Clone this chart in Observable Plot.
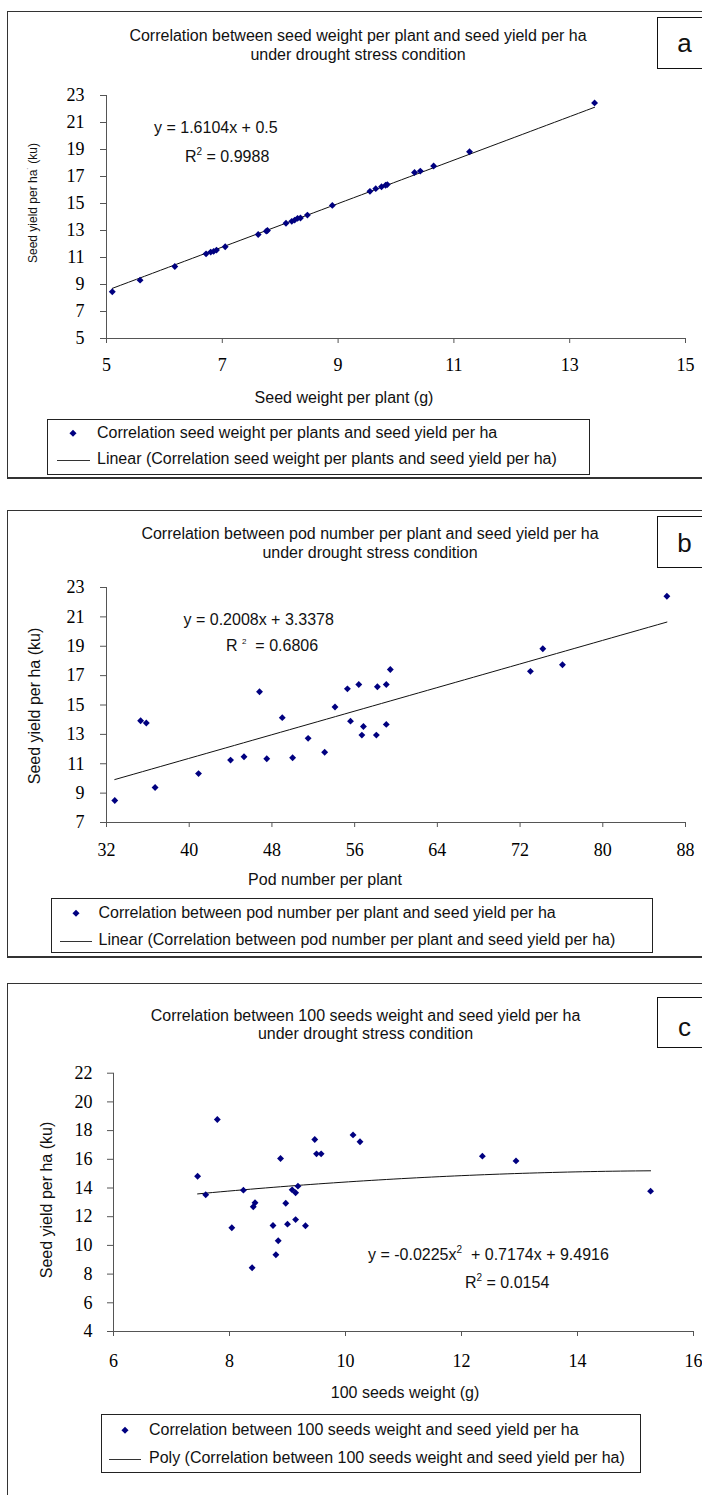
<!DOCTYPE html>
<html><head><meta charset="utf-8">
<script src="https://cdn.jsdelivr.net/npm/d3@7"></script>
<script src="https://cdn.jsdelivr.net/npm/@observablehq/plot@0.6"></script>
<style>
body{margin:0;background:#fff;}
#page{position:relative;width:702px;height:1495px;overflow:hidden;font-family:"Liberation Sans",Arial,sans-serif;color:#111;background:#fff;}
.abs{position:absolute;white-space:nowrap;line-height:1;z-index:3;}
.panel{position:absolute;border:1px solid #333;box-sizing:border-box;z-index:1;}
.lbox{position:absolute;border:1px solid #222;box-sizing:border-box;background:#fff;z-index:2;}
.plt{position:absolute;left:0;z-index:2;}
.plt g[aria-label="x-axis tick"] path,.plt g[aria-label="y-axis tick"] path{stroke:#555;}
.sup{position:relative;font-size:10px;top:-7px;}
.dm{position:absolute;width:4.6px;height:4.6px;background:#000080;transform:translate(-50%,-50%) rotate(45deg);z-index:3;}
.ln{position:absolute;height:0;border-top:1px solid #333;z-index:3;}
</style>
</head><body><div id="page"></div>
<script>
// ---------- data ----------
// Panel a: seed weight per plant (g) vs seed yield per ha (ku)
const seedWeightA = [13.43,11.27,10.65,10.42,10.32,9.85,9.82,9.75,9.65,9.55,8.9,8.47,8.35,8.3,8.25,8.2,8.1,7.78,7.76,7.62,7.05,6.9,6.85,6.8,6.72,6.18,5.58,5.1];
const yieldA      = [22.45,18.83,17.78,17.4,17.3,16.4,16.35,16.24,16.1,15.9,14.86,14.14,13.93,13.9,13.77,13.68,13.54,13.0,12.95,12.7,11.8,11.55,11.45,11.4,11.27,10.33,9.32,8.46];
const coefA = [1.6104, 0.5];
const xTicksA = [5,7,9,11,13,15];
const yTicksA = [5,7,9,11,13,15,17,19,21,23];

// Panel b: pod number per plant vs seed yield per ha (ku)
const podsB  = [86.2,74.2,76.1,73.0,59.45,56.4,59.06,55.3,58.2,46.8,54.1,49.0,35.3,35.85,55.6,56.85,59.06,56.7,58.1,51.5,53.1,44.0,45.3,47.5,50.0,40.9,36.7,32.8];
const yieldB = [22.4,18.83,17.74,17.29,17.42,16.4,16.4,16.1,16.24,15.9,14.86,14.14,13.93,13.77,13.9,13.54,13.68,12.95,12.95,12.73,11.78,11.25,11.48,11.34,11.41,10.33,9.38,8.5];
const coefB = [0.2008, 3.3378];
const xTicksB = [32,40,48,56,64,72,80,88];
const yTicksB = [7,9,11,13,15,17,19,21,23];

// Panel c: 100 seeds weight (g) vs seed yield per ha (ku)
const seeds100C = [7.45,7.59,7.79,8.04,8.24,8.41,8.44,8.75,8.80,8.84,8.88,8.97,9.0,9.08,9.14,9.14,9.18,9.31,9.47,9.5,9.58,10.13,10.25,12.36,12.94,15.26,8.39];
const yieldC    = [14.82,13.53,18.77,11.23,13.85,12.69,12.97,11.39,9.35,10.32,16.06,12.94,11.48,13.87,13.67,11.8,14.13,11.37,17.38,16.38,16.38,17.7,17.22,16.22,15.89,13.78,8.44];
const coefC = [-0.0225, 0.7174, 9.4916];
const xTicksC = [6,8,10,12,14,16];
const yTicksC = [4,6,8,10,12,14,16,18,20,22];

const titles = {
  a: ["Correlation between seed weight per plant and seed yield per ha", "under drought stress condition"],
  b: ["Correlation between pod number per plant and seed yield per ha", "under drought stress condition"],
  c: ["Correlation between 100 seeds weight and seed yield per ha", "under drought stress condition"]
};
const legends = {
  a: ["Correlation seed weight per plants and seed yield per ha", "Linear (Correlation seed weight per plants and seed yield per ha)"],
  b: ["Correlation between pod number per plant and seed yield per ha", "Linear (Correlation between pod number per plant and seed yield per ha)"],
  c: ["Correlation between 100 seeds weight and seed yield per ha", "Poly (Correlation between 100 seeds weight and seed yield per ha)"]
};
const xTitles = {a: "Seed weight per plant (g)", b: "Pod number per plant", c: "100 seeds weight (g)"};

// ---------- helpers ----------
const page = document.getElementById("page");
function el(cls, styles, html) {
  const d = document.createElement("div");
  d.className = cls;
  Object.assign(d.style, styles);
  if (html != null) d.innerHTML = html;
  page.appendChild(d);
  return d;
}
function txt(html, x, y, o = {}) {
  const size = o.size || 16, anchor = o.anchor || "middle";
  const tx = anchor === "middle" ? "-50%" : anchor === "end" ? "-100%" : "0";
  return el("abs", {left: x + "px", top: y + "px", fontSize: size + "px",
    transform: `translate(${tx},-50%)` + (o.rotate ? " rotate(-90deg)" : "")}, html);
}

function makePlot(cfg) {
  const pts = cfg.x.map((v, i) => ({x: v, y: cfg.y[i]}));
  const [x0, x1] = d3.extent(cfg.x);
  const trend = d3.range(0, 61).map(i => { const x = x0 + (x1 - x0) * i / 60; return {x, y: cfg.f(x)}; });
  const svg = Plot.plot({
    width: 702, height: cfg.h,
    marginTop: cfg.yt - cfg.top, marginBottom: cfg.top + cfg.h - cfg.yb,
    marginLeft: cfg.xl, marginRight: 702 - cfg.xr,
    style: {fontFamily: '"Liberation Serif","Times New Roman",serif', fontSize: "18px", color: "#000", background: "transparent", overflow: "visible"},
    x: {domain: [cfg.xTicks[0], cfg.xTicks[cfg.xTicks.length - 1]], ticks: cfg.xTicks, tickSize: 5, tickPadding: cfg.xPad, label: null},
    y: {domain: [cfg.yTicks[0], cfg.yTicks[cfg.yTicks.length - 1]], ticks: cfg.yTicks, tickSize: 6, tickPadding: cfg.yPad, label: null},
    marks: [
      Plot.ruleX([cfg.xTicks[0]], {stroke: "#555"}),
      Plot.ruleY([cfg.yTicks[0]], {stroke: "#555"}),
      Plot.line(trend, {x: "x", y: "y", stroke: "#111", strokeWidth: 1}),
      Plot.dot(pts, {x: "x", y: "y", symbol: "diamond2", r: 3.1, fill: "#000080", stroke: "none"})
    ]
  });
  svg.classList.add("plt");
  svg.style.top = cfg.top + "px";
  page.appendChild(svg);
}

function legend(key, box, mk, tx, ln) {
  el("lbox", {left: box[0] + "px", top: box[1] + "px", width: (box[2] - box[0]) + "px", height: (box[3] - box[1]) + "px"});
  el("dm", {left: mk[0] + "px", top: mk[1] + "px"});
  txt(legends[key][0], tx, mk[1], {anchor: "start"});
  el("ln", {left: ln[0] + "px", top: ln[2] + "px", width: (ln[1] - ln[0]) + "px"});
  txt(legends[key][1], tx, ln[2] - 1, {anchor: "start"});
}

function tag(letter, top, bottom, cy) {
  el("panel", {left: "657px", top: top + "px", width: "60px", height: (bottom - top) + "px", border: "1.5px solid #111", zIndex: 2, background: "#fff"});
  txt(letter, 684.5, cy, {size: 26});
}

// ---------- panel a ----------
el("panel", {left: "7px", top: "11px", width: "720px", height: "468px", borderBottom: "2px solid #333"});
makePlot({top: 0, h: 400, yt: 95, yb: 338, xl: 106, xr: 685, xPad: 15, yPad: 16,
  x: seedWeightA, y: yieldA, xTicks: xTicksA, yTicks: yTicksA, f: x => coefA[0] * x + coefA[1]});
txt(titles.a[0], 358, 36); txt(titles.a[1], 358, 55);
tag("a", 17, 69, 43);
txt('Seed yield per ha<span style="position:relative;top:-4px;font-size:8px">˙</span> (ku)', 32.5, 203, {size: 12, rotate: true});
txt(`y = ${coefA[0]}x + ${coefA[1]}`, 154, 128, {anchor: "start"});
txt('R<span class="sup">2</span> = 0.9988', 185, 157, {anchor: "start"});
txt(xTitles.a, 344, 398);
legend("a", [47, 419, 590, 475], [73, 433], 97, [57, 90, 460]);

// ---------- panel b ----------
el("panel", {left: "7px", top: "510px", width: "720px", height: "448px", borderBottom: "2px solid #333"});
makePlot({top: 500, h: 400, yt: 587, yb: 822, xl: 106, xr: 685, xPad: 16, yPad: 16,
  x: podsB, y: yieldB, xTicks: xTicksB, yTicks: yTicksB, f: x => coefB[0] * x + coefB[1]});
txt(titles.b[0], 370, 534); txt(titles.b[1], 370, 553);
tag("b", 516, 568, 543);
txt("Seed yield per ha (ku)", 35, 706, {size: 16, rotate: true});
txt(`y = ${coefB[0]}x + ${coefB[1]}`, 183.5, 620, {anchor: "start"});
txt('R <span class="sup" style="font-size:8px">2</span>&nbsp; = 0.6806', 226, 646, {anchor: "start"});
txt(xTitles.b, 325, 880);
legend("b", [51, 898, 653, 953], [76, 913], 98.5, [59.5, 92, 941]);

// ---------- panel c ----------
el("panel", {left: "7px", top: "983px", width: "720px", height: "600px"});
makePlot({top: 1000, h: 400, yt: 1072.7, yb: 1331, xl: 113, xr: 693, xPad: 18, yPad: 15,
  x: seeds100C, y: yieldC, xTicks: xTicksC, yTicks: yTicksC, f: x => coefC[0] * x * x + coefC[1] * x + coefC[2]});
txt(titles.c[0], 365.5, 1016); txt(titles.c[1], 365.5, 1034);
tag("c", 997, 1048, 1027);
txt("Seed yield per ha (ku)", 47, 1200, {size: 16, rotate: true});
txt(`y = ${coefC[0]}x<span class="sup">2</span> &nbsp;+ ${coefC[1]}x + ${coefC[2]}`, 368, 1255, {anchor: "start"});
txt('R<span class="sup">2</span> = 0.0154', 465, 1283, {anchor: "start"});
txt(xTitles.c, 405, 1393);
legend("c", [101, 1414, 641, 1473], [125, 1430], 149, [109, 141, 1459]);
</script>
</body></html>
